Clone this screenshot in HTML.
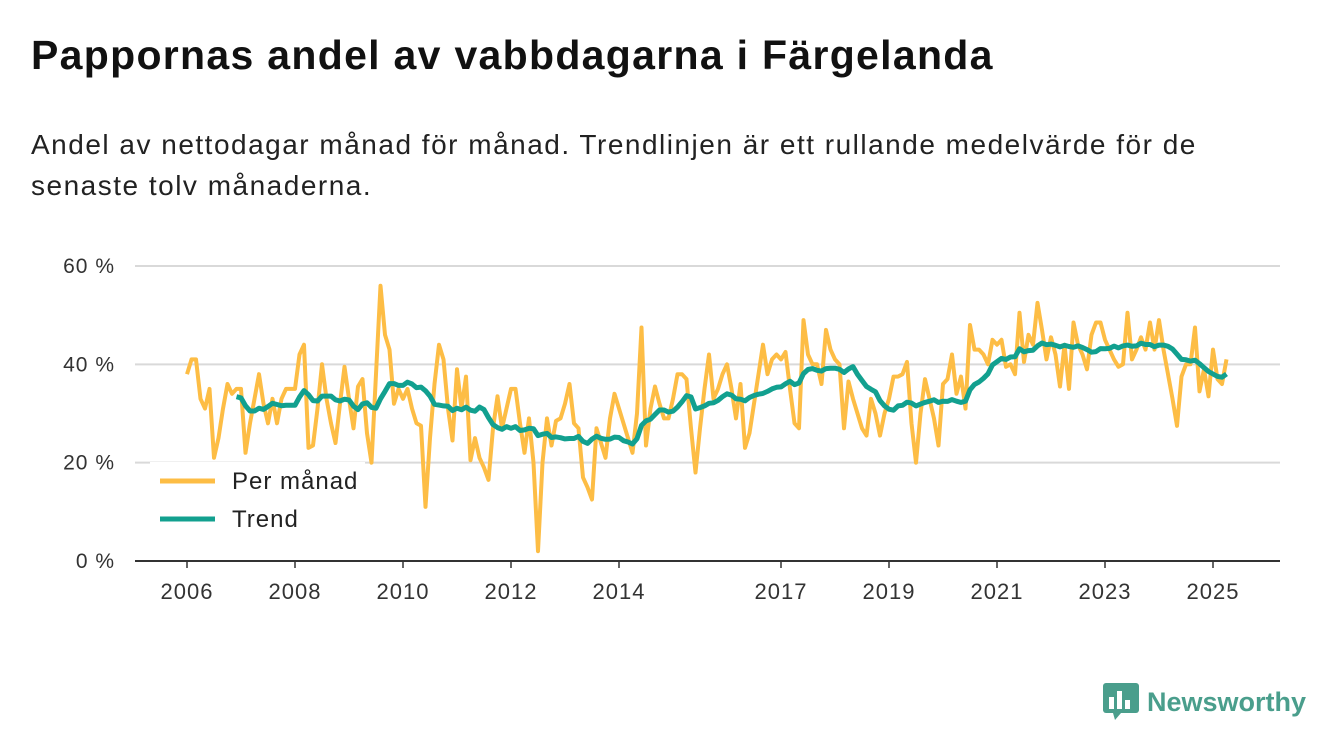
<!DOCTYPE html>
<html><head><meta charset="utf-8"><style>
body{margin:0;width:1340px;height:753px;background:#fff;font-family:"Liberation Sans","DejaVu Sans",sans-serif;overflow:hidden;position:relative}
h1{position:absolute;left:31px;top:32px;margin:0;font-size:41px;letter-spacing:1.3px;font-weight:bold;color:#111;white-space:nowrap}
.sub{position:absolute;left:31px;top:124px;font-size:28px;letter-spacing:1.5px;line-height:41px;color:#222;white-space:nowrap}
svg{position:absolute;left:0;top:0}
</style></head><body>
<h1>Pappornas andel av vabbdagarna i Färgelanda</h1>
<div class="sub">Andel av nettodagar månad för månad. Trendlinjen är ett rullande medelvärde för de<br>senaste tolv månaderna.</div>
<svg id="chart" width="1340" height="753"></svg>
<div style="position:absolute;left:1103px;top:683px;display:flex;align-items:center">
<svg width="36" height="38" style="position:static"><rect x="0" y="0" width="36" height="30" rx="3" fill="#4a9e8c"/><polygon points="10,30 18,30 12,37" fill="#4a9e8c"/><rect x="6" y="14" width="5" height="12" fill="#fff"/><rect x="14" y="8" width="5" height="18" fill="#fff"/><rect x="22" y="17" width="5" height="9" fill="#fff"/></svg>
<span style="font-size:27px;font-weight:bold;color:#4a9e8c;margin-left:8px">Newsworthy</span></div>
<script>
const startYear=2006;
const monthly=[
38,41,41,33,31,35,21,25,31,36,34,35,
35,22,28,33,38,32,28,33,28,33,35,35,
35,42,44,23,23.5,31,40,33,28,24,32,39.5,
33,27,35.5,37,26,20,38,56,46,43,32,35,
33,35,31,28,27.5,11,25,36,44,41,31,24.5,
39,31,37.5,20.5,25,21,19,16.5,27,33.5,27,31,
35,35,28,22,29,20,2,20,29,23.5,28.5,29,
32,36,28,27,17,15,12.5,27,24,21,29,34,
31,28,25,22,30,47.5,23.5,31,35.5,32,29,29,
33,38,38,37,27,18,27,35,42,33,35,38,
40,35,29,36,23,26,32,38,44,38,41,42,
41,42.5,35,28,27,49,42,40,40,36,47,43,
41,40,27,36.5,33,30,27,25.5,33,30,25.5,30,
33,37.5,37.5,38,40.5,28,20,30,37,33,29,23.5,
36,37,42,34,37.5,31,48,43,43,42,40,45,
44,45,39.5,40,38,50.5,40.5,46,44,52.5,47,41,
45.5,42,35.5,44,35,48.5,44,42,39,46,48.5,48.5,
45,43,41,39.5,40,50.5,41,43,45.5,43,48.5,43,
49,43,38,33,27.5,37.5,40,40,47.5,34.5,39,33.5,
43,37,36,41];
const yTicks=[0,20,40,60];
const yTickLabels=["0 %","20 %","40 %","60 %"];
const xTicks=[2006,2008,2010,2012,2014,2017,2019,2021,2023,2025];
const trendWindow=12;

const svg=document.getElementById('chart');
const NS='http://www.w3.org/2000/svg';
const X=t=>187+(t-2006)*54;
const Y=v=>561-v*(295/60);
function el(tag,attrs){const e=document.createElementNS(NS,tag);for(const k in attrs)e.setAttribute(k,attrs[k]);svg.appendChild(e);return e;}
yTicks.forEach((v,i)=>{
  const g=el('line',{x1:135,x2:1280,y1:Y(v),y2:Y(v),stroke:v===0?'#333':'#d9d9d9','stroke-width':2});
  
  
  const t=el('text',{x:115,y:Y(v)+7,'text-anchor':'end','font-size':21,'letter-spacing':1,fill:'#333'});
  t.textContent=yTickLabels[i];
  
  
});
xTicks.forEach(yr=>{
  const tk=el('line',{x1:X(yr),x2:X(yr),y1:561,y2:568,stroke:'#333','stroke-width':1.5});
  
  
  const t=el('text',{x:X(yr),y:599,'text-anchor':'middle','font-size':22,'letter-spacing':1,fill:'#333'});
  t.textContent=yr;
  
  
});
const tx=i=>X(startYear+i/12);
const pts=monthly.map((v,i)=>tx(i).toFixed(1)+','+Y(v).toFixed(1)).join(' ');
const trendPts=[];
for(let i=trendWindow-1;i<monthly.length;i++){
  let s=0;for(let j=i-trendWindow+1;j<=i;j++)s+=monthly[j];
  trendPts.push(tx(i).toFixed(1)+','+Y(s/trendWindow).toFixed(1));
}
const lg=el('rect',{x:150,y:462,width:215,height:80,fill:'#fff'});


const l1=el('polyline',{points:pts,fill:'none',stroke:'#fdbd45','stroke-width':4,'stroke-linejoin':'round'});


const l2=el('polyline',{points:trendPts.join(' '),fill:'none',stroke:'#12a08f','stroke-width':5,'stroke-linejoin':'round'});


[['Per månad','#fdbd45',481],['Trend','#12a08f',519]].forEach(([lab,c,y])=>{
  const ln=el('line',{x1:160,x2:215,y1:y,y2:y,stroke:c,'stroke-width':5});
  
  
  const t=el('text',{x:232,y:y+8,'font-size':24,'letter-spacing':1,fill:'#222'});
  t.textContent=lab;
  
  
});
</script>
</body></html>
